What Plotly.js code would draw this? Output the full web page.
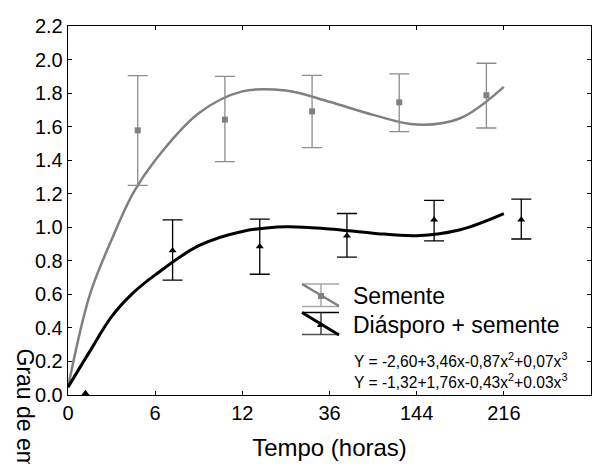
<!DOCTYPE html>
<html>
<head>
<meta charset="utf-8">
<script src="https://cdn.plot.ly/plotly-3.0.1.min.js"></script>
<style>html,body{margin:0;padding:0;background:#fff;}#chart{width:592px;height:464px;}</style>
</head>
<body>
<div id="chart"></div>
<script>
// Tick labels (time in hours), placed at category indices 0..5
const tickIdx = [0, 1, 2, 3, 4, 5];
const tickLabels = ['0', '6', '12', '36', '144', '216'];

// "Semente" observed means with error bar bounds
const semX = [0.8, 1.8, 2.8, 3.8, 4.8];
const semY = [1.578, 1.642, 1.691, 1.745, 1.787];
const semUpper = [1.904, 1.900, 1.906, 1.915, 1.978];
const semLower = [1.250, 1.391, 1.475, 1.570, 1.592];

// "Diásporo + semente" observed means with error bar bounds (first point has none)
const diaX = [0.2, 1.2, 2.2, 3.2, 4.2, 5.2];
const diaY = [0.01, 0.862, 0.886, 0.949, 1.045, 1.045];
const diaUpper = [null, 1.044, 1.048, 1.082, 1.160, 1.168];
const diaLower = [null, 0.685, 0.720, 0.822, 0.919, 0.930];

// Fitted curves
const curveX = [0, 0.25, 0.5, 0.75, 1.0, 1.5, 2.0, 2.5, 3.0, 3.5, 4.0, 4.5, 5.0];
const semCurve = [0.046, 0.597, 0.925, 1.206, 1.40, 1.68, 1.81, 1.815, 1.748, 1.67, 1.612, 1.65, 1.837];
const diaCurve = [0.046, 0.26, 0.467, 0.61, 0.716, 0.89, 0.975, 1.003, 0.99, 0.965, 0.95, 0.985, 1.081];

const legendNames = ['Semente', 'Diásporo + semente'];
const equations = ['Y = -2,60+3,46x-0,87x<sup>2</sup>+0,07x<sup>3</sup>',
                   'Y = -1,32+1,76x-0,43x<sup>2</sup>+0.03x<sup>3</sup>'];

const FONT = 'Liberation Sans, Arial, sans-serif';
const GRAY = '#808080';

const errOf = (arr, ys, up) => arr.map((v, i) => v == null ? NaN : (up ? v - ys[i] : ys[i] - v));

const traces = [
  {x: curveX, y: semCurve, type: 'scatter', mode: 'lines', line: {color: GRAY, width: 2.5, shape: 'spline', smoothing: 1}, hoverinfo: 'skip'},
  {x: curveX, y: diaCurve, type: 'scatter', mode: 'lines', line: {color: '#000', width: 3, shape: 'spline', smoothing: 1}, hoverinfo: 'skip'},
  {x: semX, y: semY, type: 'scatter', mode: 'markers',
   marker: {symbol: 'square', size: 6, color: GRAY},
   error_y: {type: 'data', symmetric: false,
     array: errOf(semUpper, semY, true),
     arrayminus: errOf(semLower, semY, false),
     color: '#8c8c8c', thickness: 1.3, width: 10}},
  {x: diaX, y: diaY, type: 'scatter', mode: 'markers',
   marker: {symbol: 'triangle-up', size: 7, color: '#000'},
   error_y: {type: 'data', symmetric: false,
     array: errOf(diaUpper, diaY, true),
     arrayminus: errOf(diaLower, diaY, false),
     color: '#000', thickness: 1.3, width: 10}}
];

// pixel -> paper helpers for decorative legend
const L = 68, R = 1, T = 26, B = 69, W = 592, H = 464;
const pw = W - L - R, ph = H - T - B;
const px = v => (v - L) / pw;
const py = v => (H - B - v) / ph;

function seg(x0, y0, x1, y1, color, width) {
  return {type: 'line', xref: 'paper', yref: 'paper', x0: px(x0), y0: py(y0), x1: px(x1), y1: py(y1), line: {color: color, width: width}};
}

const shapes = [
  // Semente legend symbol
  seg(302, 284, 339, 284, '#a8a8a8', 1.3),
  seg(302, 306.5, 339, 306.5, '#a8a8a8', 1.3),
  seg(321, 284, 321, 306.5, '#9a9a9a', 1.3),
  seg(302, 284, 339, 306, GRAY, 2.5),
  {type: 'rect', xref: 'paper', yref: 'paper', x0: px(318), x1: px(324), y0: py(293), y1: py(299), fillcolor: GRAY, line: {width: 0}},
  // Diásporo legend symbol
  seg(302, 312.5, 339, 312.5, '#000', 1.3),
  seg(302, 334.5, 339, 334.5, '#555', 1.3),
  seg(321, 312.5, 321, 334.5, '#222', 1.3),
  seg(302, 312.5, 339, 335, '#000', 3),
  {type: 'path', xref: 'paper', yref: 'paper',
   path: 'M ' + px(317) + ' ' + py(327) + ' L ' + px(323) + ' ' + py(327) + ' L ' + px(320) + ' ' + py(321) + ' Z',
   fillcolor: '#000', line: {width: 0}}
];

const annotations = [
  {xref: 'paper', yref: 'paper', x: px(351), y: py(296), xanchor: 'left', yanchor: 'middle', showarrow: false,
   text: legendNames[0], font: {family: FONT, size: 23, color: '#000'}},
  {xref: 'paper', yref: 'paper', x: px(351), y: py(324.5), xanchor: 'left', yanchor: 'middle', showarrow: false,
   text: legendNames[1], font: {family: FONT, size: 23, color: '#000'}},
  {xref: 'paper', yref: 'paper', x: px(352), y: py(360), xanchor: 'left', yanchor: 'middle', showarrow: false,
   text: equations[0], font: {family: FONT, size: 15.6, color: '#000'}},
  {xref: 'paper', yref: 'paper', x: px(352), y: py(381), xanchor: 'left', yanchor: 'middle', showarrow: false,
   text: equations[1], font: {family: FONT, size: 15.6, color: '#000'}},
  {xref: 'paper', yref: 'paper', x: px(25), y: py(346), xanchor: 'center', yanchor: 'top', showarrow: false,
   textangle: 90, text: 'Grau de embebição (g)', font: {family: FONT, size: 23, color: '#000'}}
];

const layout = {
  width: W, height: H,
  margin: {l: L, r: R, t: T, b: B, pad: 0},
  paper_bgcolor: '#fff', plot_bgcolor: '#fff',
  showlegend: false,
  font: {family: FONT, color: '#000'},
  xaxis: {
    range: [0, 6], tickvals: tickIdx, ticktext: tickLabels,
    ticks: 'inside', ticklen: 4, tickwidth: 1, tickcolor: '#000',
    showline: true, linecolor: '#000', linewidth: 1.3, mirror: 'ticks',
    showgrid: false, zeroline: false,
    tickfont: {family: FONT, size: 20, color: '#000'},
    title: {text: 'Tempo (horas)', font: {family: FONT, size: 24, color: '#000'}, standoff: 16}
  },
  yaxis: {
    range: [0, 2.2], dtick: 0.2, tick0: 0, tickformat: '.1f',
    ticks: 'inside', ticklen: 4, tickwidth: 1, tickcolor: '#000',
    showline: true, linecolor: '#000', linewidth: 1.3, mirror: 'ticks',
    showgrid: false, zeroline: false,
    tickfont: {family: FONT, size: 20, color: '#000'}
  },
  shapes: shapes,
  annotations: annotations
};

Plotly.newPlot('chart', traces, layout, {displayModeBar: false, staticPlot: true});
</script>
</body>
</html>
